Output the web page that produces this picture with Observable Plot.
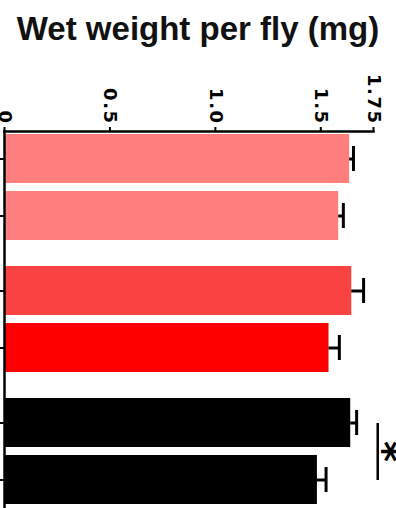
<!DOCTYPE html>
<html>
<head>
<meta charset="utf-8">
<script src="https://cdn.jsdelivr.net/npm/d3@7"></script>
<script src="https://cdn.jsdelivr.net/npm/@observablehq/plot@0.6"></script>
<style>
  html, body { margin: 0; padding: 0; background: #fff; overflow: hidden; }
  #title { height: 48px; box-sizing: border-box; padding-top: 10px; line-height: 38px;
    font-family: "Liberation Sans", Arial, sans-serif; font-weight: bold; font-size: 33px;
    text-align: center; color: #111; white-space: nowrap; width: 396px; }
  #chart svg { display: block; }
</style>
</head>
<body>
<div id="title">Wet weight per fly (mg)</div>
<div id="chart"></div>
<script>
// Data
const groups = ["A", "A", "B", "B", "C", "C"];
const slots  = ["1", "2", "1", "2", "1", "2"];
const values = [1.637, 1.585, 1.647, 1.539, 1.642, 1.484];
const errors = [0.018, 0.022, 0.056, 0.049, 0.028, 0.041];
const colors = ["#ff7f7f", "#ff7f7f", "#f94343", "#ff0000", "#000000", "#000000"];

const xTicks = [0, 0.5, 1.0, 1.5, 1.75];
const xTickLabels = ["0", "0.5", "1.0", "1.5", "1.75"];

const sigGroup = ["C"];
const sigFrom = ["1"];
const sigTo = ["2"];
const sigLabel = ["*"];
const sigX = [1.77];
const sigTextX = [1.795];

const data = values.map((v, i) => ({group: groups[i], slot: slots[i], value: v, err: errors[i], color: colors[i]}));
const sig = sigGroup.map((g, i) => ({group: g, from: sigFrom[i], to: sigTo[i], label: sigLabel[i], x: sigX[i], tx: sigTextX[i]}));

const chart = Plot.plot({
  width: 396,
  height: 460,
  marginTop: 82,
  marginBottom: 0,
  marginLeft: 4,
  marginRight: 23,
  style: {fontFamily: "'DejaVu Sans', sans-serif", color: "#000", background: "#fff"},
  x: {domain: [0, 1.75], axis: null},
  y: {domain: ["1", "2"], paddingInner: 0.14, paddingOuter: 0.05, axis: null},
  fy: {domain: ["A", "B", "C"], paddingInner: 0.15, paddingOuter: 0, axis: null},
  color: {type: "identity"},
  marks: [
    Plot.barX(data, {fy: "group", y: "slot", x: "value", fill: "color"}),
    Plot.ruleY(data, {fy: "group", y: "slot", x1: "value", x2: d => d.value + d.err, stroke: "#000", strokeWidth: 3}),
    Plot.tickX(data, {fy: "group", y: "slot", x: d => d.value + d.err, stroke: "#000", strokeWidth: 3, insetTop: 12, insetBottom: 12}),
    Plot.axisX({anchor: "top", ticks: xTicks, tickFormat: d => xTickLabels[xTicks.indexOf(d)],
      tickRotate: 90, tickSize: 5, tickPadding: 2, fontSize: 18, fontWeight: "bold",
      strokeWidth: 2, label: null}),
    Plot.frame({anchor: "top", facetAnchor: "top", strokeWidth: 2.5}),
    Plot.frame({anchor: "left", facet: "super", strokeWidth: 2.5}),
    Plot.axisY({tickSize: 4, fill: "none", stroke: "#000", strokeWidth: 2, label: null}),
    Plot.link(sig, {fy: "group", x1: "x", x2: "x", y1: "from", y2: "to", stroke: "#000", strokeWidth: 2.5}),
    Plot.text(sig, {fy: "group", x: "tx", text: "label", rotate: 90, fontSize: 40, fontWeight: "bold", fill: "#000"})
  ]
});
d3.select(chart).selectAll("g[aria-label='x-axis tick label'] text").style("letter-spacing", "1.5px");
document.getElementById("chart").appendChild(chart);
</script>
</body>
</html>
